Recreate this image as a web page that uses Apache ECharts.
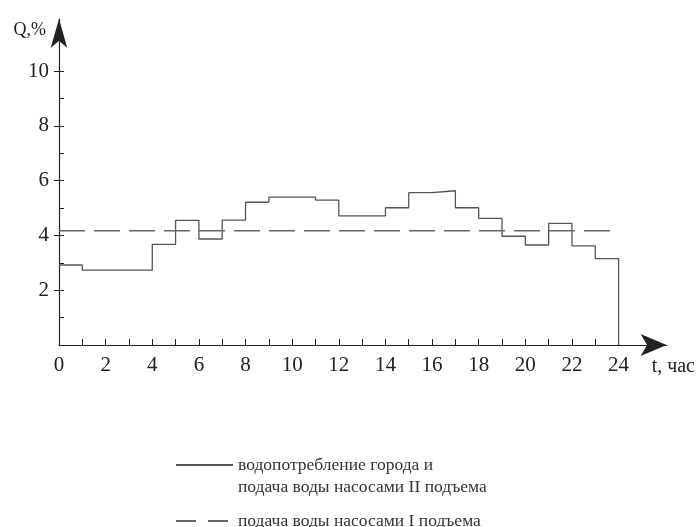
<!DOCTYPE html>
<html>
<head>
<meta charset="utf-8">
<script src="https://cdn.jsdelivr.net/npm/echarts@6/dist/echarts.min.js"></script>
<style>
html,body{margin:0;padding:0;background:#fff;}
#chart{width:698px;height:527px;}
</style>
</head>
<body>
<div id="chart"></div>
<script>
// hours of the day (start of each hourly interval)
var hours = [0,1,2,3,4,5,6,7,8,9,10,11,12,13,14,15,16,17,18,19,20,21,22,23];
// city water consumption and pumping station II supply, % of daily volume
var consumption = [2.92,2.73,2.73,2.73,3.67,4.55,3.87,4.56,5.21,5.40,5.40,5.29,4.71,4.71,5.01,5.56,5.63,5.01,4.62,3.97,3.65,4.44,3.62,3.15];
// pumping station I supply (uniform), % per hour
var pumpI = 4.17;
var xTickLabels = [0,2,4,6,8,10,12,14,16,18,20,22,24];
var yTickLabels = [2,4,6,8,10];
var xMinorTicks = [1,2,3,4,5,6,7,8,9,10,11,12,13,14,15,16,17,18,19,20,21,22,23,24];
var yInnerTicks = [1,2,3,4,5,6,7,8,9,10];
var seriesNames = ['водопотребление города и\nподача воды насосами II подъема', 'подача воды насосами I подъема'];

var stepData = hours.map(function(h,i){return [h, consumption[i]];});
stepData.push([24, consumption[consumption.length-1]]);
stepData.push([24, 0]);
var pumpData = [[0, pumpI],[24, pumpI]];

var FONT = 'Liberation Serif';
var AX = '#222';
var chart = echarts.init(document.getElementById('chart'), null, {renderer:'canvas'});
chart.setOption({
  animation:false,
  backgroundColor:'#fff',
  grid:{left:59, right:31, top:19, bottom:182, containLabel:false},
  xAxis:{
    type:'value', min:0, max:26.06,
    name:'t, час', nameLocation:'end', nameGap:-15,
    nameTextStyle:{fontFamily:FONT, fontSize:20, color:AX, align:'left', verticalAlign:'top', padding:[12,0,0,0]},
    axisLine:{show:true, onZero:false, symbol:['none','arrow'], symbolSize:[16.5,26], lineStyle:{color:AX, width:1.2}},
    axisTick:{show:true, inside:true, length:6, customValues:xMinorTicks, lineStyle:{color:AX, width:1}},
    axisLabel:{show:true, margin:10, customValues:xTickLabels, fontFamily:FONT, fontSize:21, color:AX},
    splitLine:{show:false}
  },
  yAxis:[{
    type:'value', min:0, max:11.9,
    name:'Q,%', nameLocation:'end', nameGap:-20,
    nameTextStyle:{fontFamily:FONT, fontSize:18, color:AX, align:'right', verticalAlign:'bottom', padding:[0,13,0,0]},
    axisLine:{show:true, onZero:false, symbol:['none','arrow'], symbolSize:[12.5,29], lineStyle:{color:AX, width:1.2}},
    axisTick:{show:true, inside:false, length:5, customValues:yTickLabels, lineStyle:{color:AX, width:1}},
    axisLabel:{show:true, margin:10, customValues:yTickLabels, fontFamily:FONT, fontSize:21, color:AX, padding:[4,0,0,0]},
    splitLine:{show:false}
  },{
    type:'value', min:0, max:11.9, position:'left',
    axisLine:{show:false},
    axisTick:{show:true, inside:true, length:5, customValues:yInnerTicks, lineStyle:{color:AX, width:1}},
    axisLabel:{show:false},
    splitLine:{show:false}
  }],
  legend:{
    orient:'vertical', left:175, top:432, height:300, padding:0, itemGap:12,
    itemWidth:57, itemHeight:14, itemStyle:{opacity:0},
    textStyle:{fontFamily:FONT, fontSize:17.5, color:'#333', lineHeight:22},
    formatter:function(name){ return name.indexOf('\n') >= 0 ? '\n' + name : name; },
    data:[
      {name:seriesNames[0]},
      {name:seriesNames[1], lineStyle:{type:[20,12]}}
    ]
  },
  series:[{
    name:seriesNames[0],
    type:'line', step:'end', symbol:'none', data:stepData, silent:true,
    lineStyle:{color:'#555', width:1.3}
  },{
    name:seriesNames[1],
    type:'line', symbol:'none', data:pumpData, silent:true,
    lineStyle:{color:'#666', width:1.3, type:[26,9]}
  }]
});
</script>
</body>
</html>
